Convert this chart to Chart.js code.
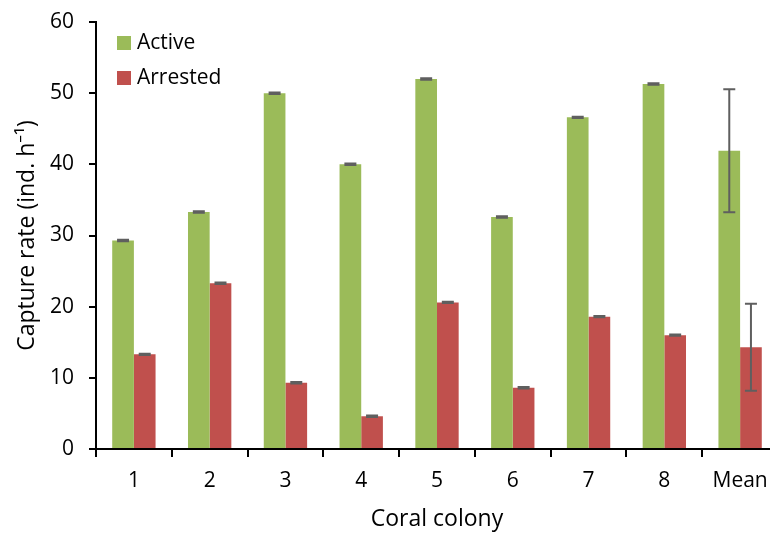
<!DOCTYPE html>
<html>
<head>
<meta charset="utf-8">
<script src="https://cdn.jsdelivr.net/npm/chart.js@4/dist/chart.umd.min.js"></script>
<style>
  html, body { margin: 0; padding: 0; background: #ffffff; overflow: hidden; }
  #wrap { width: 780px; height: 533px; }
</style>
</head>
<body>
<div id="wrap"><canvas id="chart" width="780" height="533"></canvas></div>
<script>
// Capture rate per coral colony, active vs arrested polyps
const categories = ['1', '2', '3', '4', '5', '6', '7', '8', 'Mean'];
const activeValues = [29.3, 33.3, 50.0, 40.0, 52.0, 32.6, 46.6, 51.3, 41.9];
const activeErrors = [0.1, 0.1, 0.1, 0.1, 0.1, 0.1, 0.1, 0.1, 8.65];
const arrestedValues = [13.3, 23.3, 9.3, 4.6, 20.6, 8.6, 18.6, 16.0, 14.3];
const arrestedErrors = [0.1, 0.1, 0.1, 0.1, 0.1, 0.1, 0.1, 0.1, 6.1];
const yTicks = [0, 10, 20, 30, 40, 50, 60];

const FONT = "'Open Sans', 'Noto Sans', sans-serif";

// Error bars drawn on top of each bar, from the dataset's error array
const errorBars = {
  id: 'errorBars',
  afterDatasetsDraw(chart) {
    const ctx = chart.ctx;
    const y = chart.scales.y;
    chart.data.datasets.forEach((ds, di) => {
      const meta = chart.getDatasetMeta(di);
      meta.data.forEach((bar, i) => {
        const v = ds.data[i], e = ds.errors[i];
        const yt = y.getPixelForValue(v + e);
        const yb = y.getPixelForValue(v - e);
        const half = 6;
        ctx.save();
        ctx.strokeStyle = '#5f5f5f';
        ctx.lineWidth = 2;
        ctx.beginPath();
        ctx.moveTo(bar.x, yt); ctx.lineTo(bar.x, yb);
        ctx.moveTo(bar.x - half, yt); ctx.lineTo(bar.x + half, yt);
        ctx.moveTo(bar.x - half, yb); ctx.lineTo(bar.x + half, yb);
        ctx.stroke();
        ctx.restore();
      });
    });
  }
};

// Legend placed inside the plot, top-left
const insideLegend = {
  id: 'insideLegend',
  afterDraw(chart) {
    const ctx = chart.ctx;
    const a = chart.chartArea;
    ctx.save();
    ctx.font = '21px ' + FONT;
    ctx.textBaseline = 'middle';
    ctx.textAlign = 'left';
    chart.data.datasets.forEach((ds, i) => {
      const cy = a.top + 21 + i * 35;
      ctx.fillStyle = ds.backgroundColor;
      ctx.fillRect(a.left + 21, cy - 7, 14, 14);
      ctx.fillStyle = '#000000';
      ctx.fillText(ds.label, a.left + 41, cy);
    });
    ctx.restore();
  }
};

new Chart(document.getElementById('chart'), {
  type: 'bar',
  data: {
    labels: categories,
    datasets: [
      { label: 'Active', data: activeValues, errors: activeErrors, backgroundColor: '#9BBB59',
        categoryPercentage: 0.572, barPercentage: 1.0 },
      { label: 'Arrested', data: arrestedValues, errors: arrestedErrors, backgroundColor: '#C0504D',
        categoryPercentage: 0.572, barPercentage: 1.0 }
    ]
  },
  options: {
    responsive: false,
    animation: false,
    devicePixelRatio: 1,
    layout: { padding: { top: 22, right: 2, left: 0, bottom: 0 } },
    plugins: { legend: { display: false }, tooltip: { enabled: false } },
    scales: {
      x: {
        grid: { display: true, drawOnChartArea: false, drawTicks: true, tickLength: 8,
                color: '#000000', lineWidth: 2, offset: true },
        border: { display: true, color: '#000000', width: 2 },
        ticks: { color: '#000000', font: { family: FONT, size: 21 }, padding: 11, maxRotation: 0 },
        title: { display: true, text: 'Coral colony', color: '#000000',
                 font: { family: FONT, size: 23 }, padding: { top: 0, bottom: 0 } },
        afterFit(scale) {
          scale.height = 84;
          scale.paddingLeft = 0; scale.paddingRight = 0;
        }
      },
      y: {
        min: 0, max: 60,
        afterBuildTicks(scale) { scale.ticks = yTicks.map(v => ({ value: v })); },
        grid: { display: true, drawOnChartArea: false, drawTicks: true, tickLength: 7,
                color: '#000000', lineWidth: 2 },
        border: { display: true, color: '#000000', width: 2 },
        ticks: { color: '#000000', font: { family: FONT, size: 21 }, padding: 15 },
        title: { display: true, text: 'Capture rate (ind. h\u207B\u00B9)', color: '#000000',
                 font: { family: FONT, size: 23 }, padding: { top: 14, bottom: 0 } },
        afterFit(scale) {
          scale.width = 96;
          scale.paddingTop = 0; scale.paddingBottom = 0;
        }
      }
    }
  },
  plugins: [errorBars, insideLegend]
});
</script>
</body>
</html>
